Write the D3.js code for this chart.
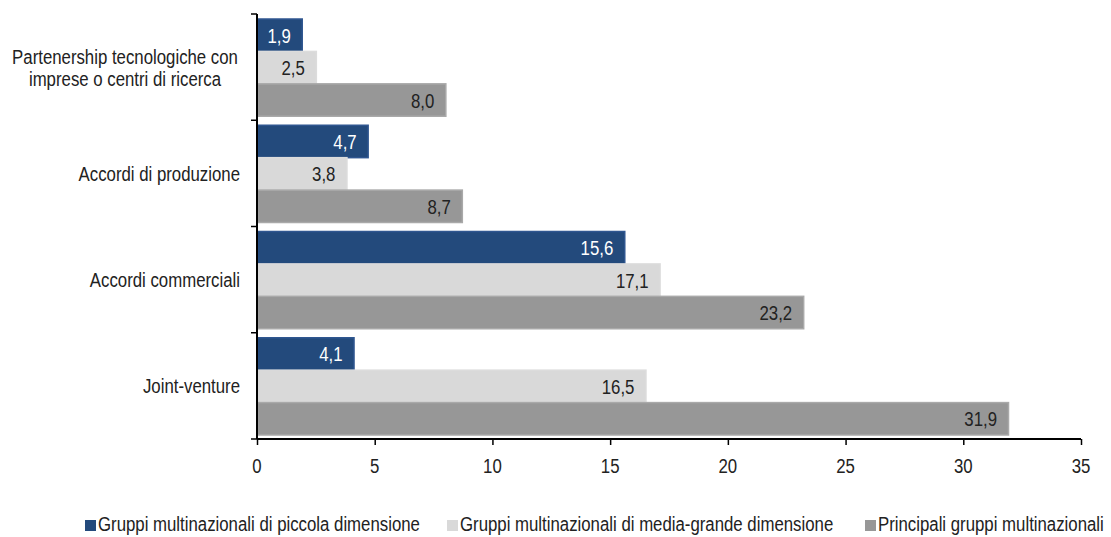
<!DOCTYPE html>
<html><head><meta charset="utf-8">
<script src="https://cdn.jsdelivr.net/npm/d3@7"></script>
<style>body{margin:0;background:#fff}text{font-family:"Liberation Sans",Arial,sans-serif;fill:#222}</style>
</head><body><svg id="c" width="1111" height="537"></svg>
<script>
const categories = ["Partenership tecnologiche con|imprese o centri di ricerca","Accordi di produzione","Accordi commerciali","Joint-venture"];
const seriesNames = ["Gruppi multinazionali di piccola dimensione","Gruppi multinazionali di media-grande dimensione","Principali gruppi multinazionali"];
const piccola = [1.9,4.7,15.6,4.1];
const mediaGrande = [2.5,3.8,17.1,16.5];
const principali = [8.0,8.7,23.2,31.9];
const xTicks = [0,5,10,15,20,25,30,35];
const colors = ["#234a7c","#d9d9d9","#979797"];
const strokes = ["#2f5690","#dcdcdc","#a9a9a9"];
const labelColors = ["#ffffff","#222","#222"];

const FS = 21, SX = 0.8;
const svg = d3.select("#c");
function ntext(parent, x, y, str, anchor){
  return parent.append("text")
    .attr("transform",`translate(${x},${y}) scale(${SX},1)`)
    .attr("text-anchor",anchor||"start").attr("font-size",FS).text(str);
}

const m = {l:257,r:1081,t:14,b:439};
const x = d3.scaleLinear().domain([0,35]).range([m.l,m.r]);
const y = d3.scaleBand().domain(categories).range([m.t,m.b]);
const sub = d3.scaleBand().domain([0,1,2]).range([5,y.bandwidth()-4]);
const series = [piccola, mediaGrande, principali];

series.forEach((vals,si)=>{
  const g = svg.append("g");
  g.selectAll("rect").data(vals).join("rect")
    .attr("x",x(0)+0.5).attr("y",(d,i)=>y(categories[i])+sub(si))
    .attr("width",d=>x(d)-x(0)).attr("height",sub.bandwidth())
    .attr("fill",colors[si]).attr("stroke",strokes[si]).attr("stroke-width",1.5);
  vals.forEach((d,i)=>{
    ntext(g, x(d)-11, y(categories[i])+sub(si)+sub.bandwidth()/2+7.5, d.toFixed(1).replace(".",","), "end")
      .style("fill",labelColors[si]);
  });
});

// x axis
const xa = svg.append("g").attr("transform",`translate(0,${m.b})`)
  .call(d3.axisBottom(x).tickValues(xTicks).tickSize(6).tickFormat(""));
xa.select(".domain").attr("stroke","#000").attr("stroke-width",2).attr("d",`M${m.l},0H${m.r}`);
xa.selectAll(".tick line").attr("stroke","#000").attr("stroke-width",1.5);
xTicks.forEach(t=>ntext(svg, x(t), 473, String(t), "middle"));

// y axis
const ya = svg.append("g").attr("transform",`translate(${m.l},0)`);
ya.append("line").attr("x1",0).attr("x2",0).attr("y1",m.t).attr("y2",m.b).attr("stroke","#000").attr("stroke-width",2);
const bounds = categories.map(c=>y(c)).concat([m.b]);
ya.selectAll("line.t").data(bounds).join("line").attr("class","t")
  .attr("x1",-6).attr("x2",0).attr("y1",d=>d).attr("y2",d=>d).attr("stroke","#000").attr("stroke-width",1.5);
categories.forEach(c=>{
  const lines = c.split("|");
  const cy = y(c)+y.bandwidth()/2;
  lines.forEach((ln,i)=>{
    const yy = cy+7.5+(i-(lines.length-1)/2)*22;
    if(lines.length>1) ntext(svg, 125, yy, ln, "middle");
    else ntext(svg, 240, yy, ln, "end");
  });
});

// legend
const legX = [85,447,865];
seriesNames.forEach((n,i)=>{
  svg.append("rect").attr("x",legX[i]).attr("y",520).attr("width",11).attr("height",11).attr("fill",colors[i]);
  ntext(svg, legX[i]+13, 531, n, "start");
});
</script></body></html>
